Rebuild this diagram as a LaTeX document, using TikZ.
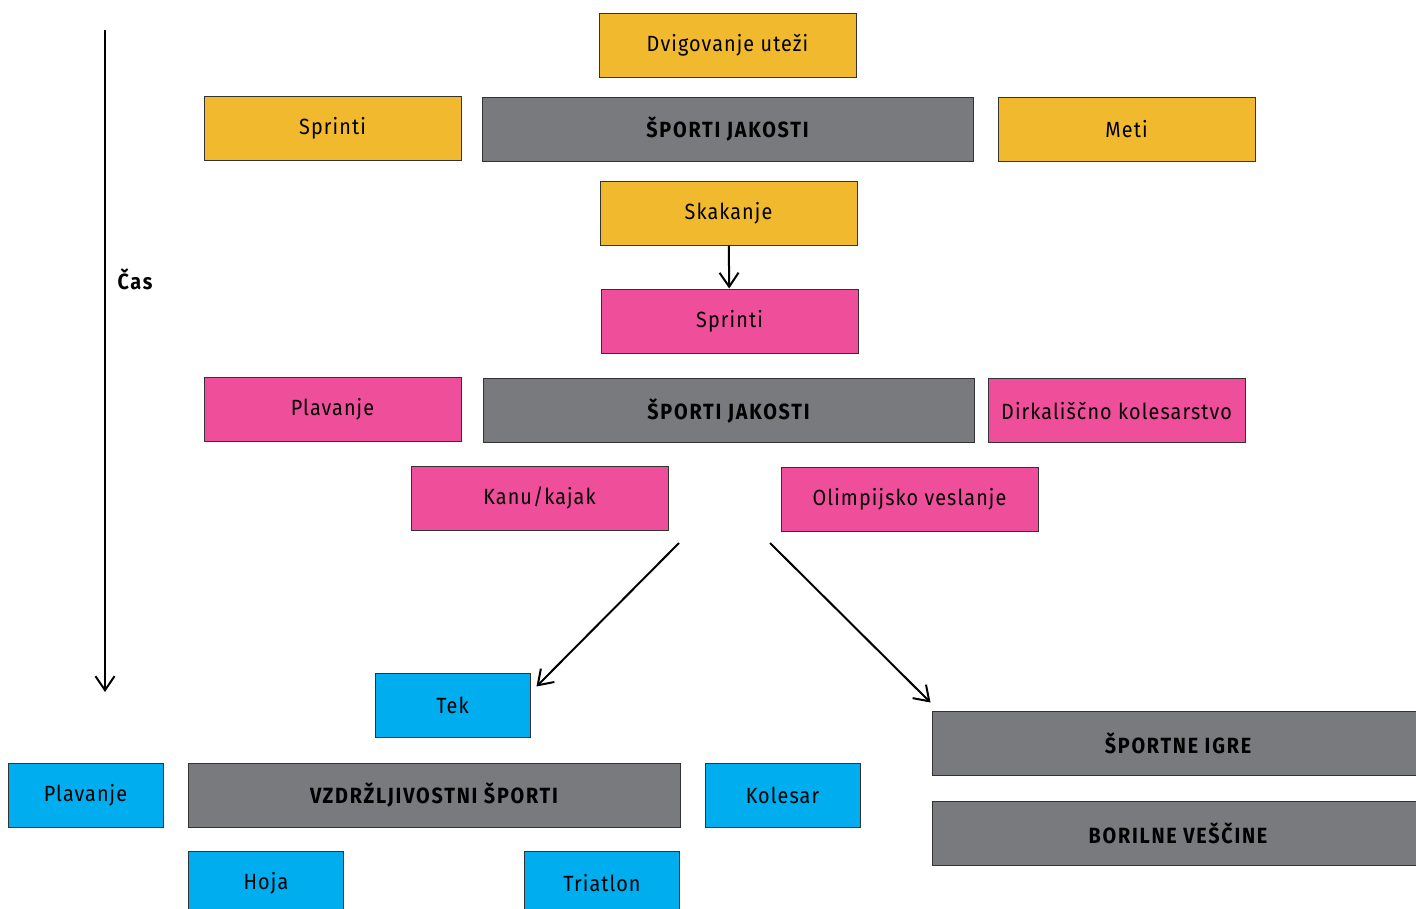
\documentclass[tikz,border=0pt]{standalone}
\usepackage{fontspec}
\setmainfont[FakeStretch=0.9, LetterSpace=5, BoldFeatures={LetterSpace=8}]{Fira Sans}
\usepackage{xcolor}
\usepackage{tikz}
\usetikzlibrary{arrows.meta, positioning, calc}
\definecolor{sportyellow}{HTML}{F1BA2E}
\definecolor{sportgray}{HTML}{797A7E}
\definecolor{sportpink}{HTML}{EF4F9A}
\definecolor{sportblue}{HTML}{00ADEF}
\definecolor{edgegray}{HTML}{333333}
\tikzset{
    box/.style = {rectangle, draw=edgegray, line width=1pt, minimum width=257pt, minimum height=64pt, inner sep=0pt, align=center, font=\fontsize{22}{26}\selectfont},
    yellowbox/.style = {box, fill=sportyellow},
    pinkbox/.style = {box, fill=sportpink},
    bluebox/.style = {box, fill=sportblue, minimum width=155pt},
    graybox/.style = {box, fill=sportgray, minimum width=491pt, font=\fontsize{22}{26}\selectfont\bfseries},
    arrow/.style = {line width=2pt, -{Straight Barb[length=14pt, width=19pt, line width=2pt]}}
}

\begin{document}
\begin{tikzpicture}[x=1pt, y=-1pt]
\useasboundingbox (0,0) rectangle (1416,908);
\clip (0,0) rectangle (1416,908);

% Strength sports
\node (dvig) [yellowbox] at (727.5,45) {Dvigovanje uteži};
\node (jak1) [graybox] at (727.5,129) {ŠPORTI JAKOSTI};
\node (sprint1) [yellowbox] at (332.5,128) {Sprinti};
\node (meti) [yellowbox] at (1126.5,129) {Meti};
\node (skak) [yellowbox] at (728.5,213) {Skakanje};

% Power sports
\node (sprint2) [pinkbox] at (729.5,321) {Sprinti};
\node (jak2) [graybox] at (728.5,410.5) {ŠPORTI JAKOSTI};
\node (plav1) [pinkbox] at (332.5,409.5) {Plavanje};
\node (dirk) [pinkbox] at (1116.5,410.5) {Dirkališčno kolesarstvo};
\node (kanu) [pinkbox] at (539.5,498) {Kanu/kajak};
\node (olim) [pinkbox] at (909.5,499) {Olimpijsko veslanje};

% Endurance sports
\node (tek) [bluebox] at (452.5,705) {Tek};
\node (vzd) [graybox, minimum width=492pt] at (434,795) {VZDRŽLJIVOSTNI ŠPORTI};
\node (plav2) [bluebox] at (85.5,795) {Plavanje};
\node (kol) [bluebox] at (782.5,795) {Kolesar};
\node (hoja) [bluebox] at (266,883) {Hoja};
\node (tri) [bluebox] at (602,883) {Triatlon};

% Games and martial arts
\node (igre) [graybox, minimum width=500pt] at (1182,743) {\hspace*{-8pt}ŠPORTNE IGRE};
\node (bor) [graybox, minimum width=500pt] at (1182,833) {\hspace*{-8pt}BORILNE VEŠČINE};

% Time axis
\coordinate (tstart) at (105,30);
\coordinate (tend) at (105,692);
\node (cas) [anchor=west, font=\fontsize{22}{26}\selectfont\bfseries] at (114,279) {Čas};

% Arrows
\coordinate (splitL) at (679,543);
\coordinate (splitR) at (770,543);
\draw [arrow] (tstart) -- (tend);
\draw [arrow] (skak) -- (sprint2);
\draw [arrow] (splitL) -- ($(tek.north east)+(6,14)$);
\draw [arrow] (splitR) -- ($(igre.north west)+(-1,-8)$);

\end{tikzpicture}
\end{document}
